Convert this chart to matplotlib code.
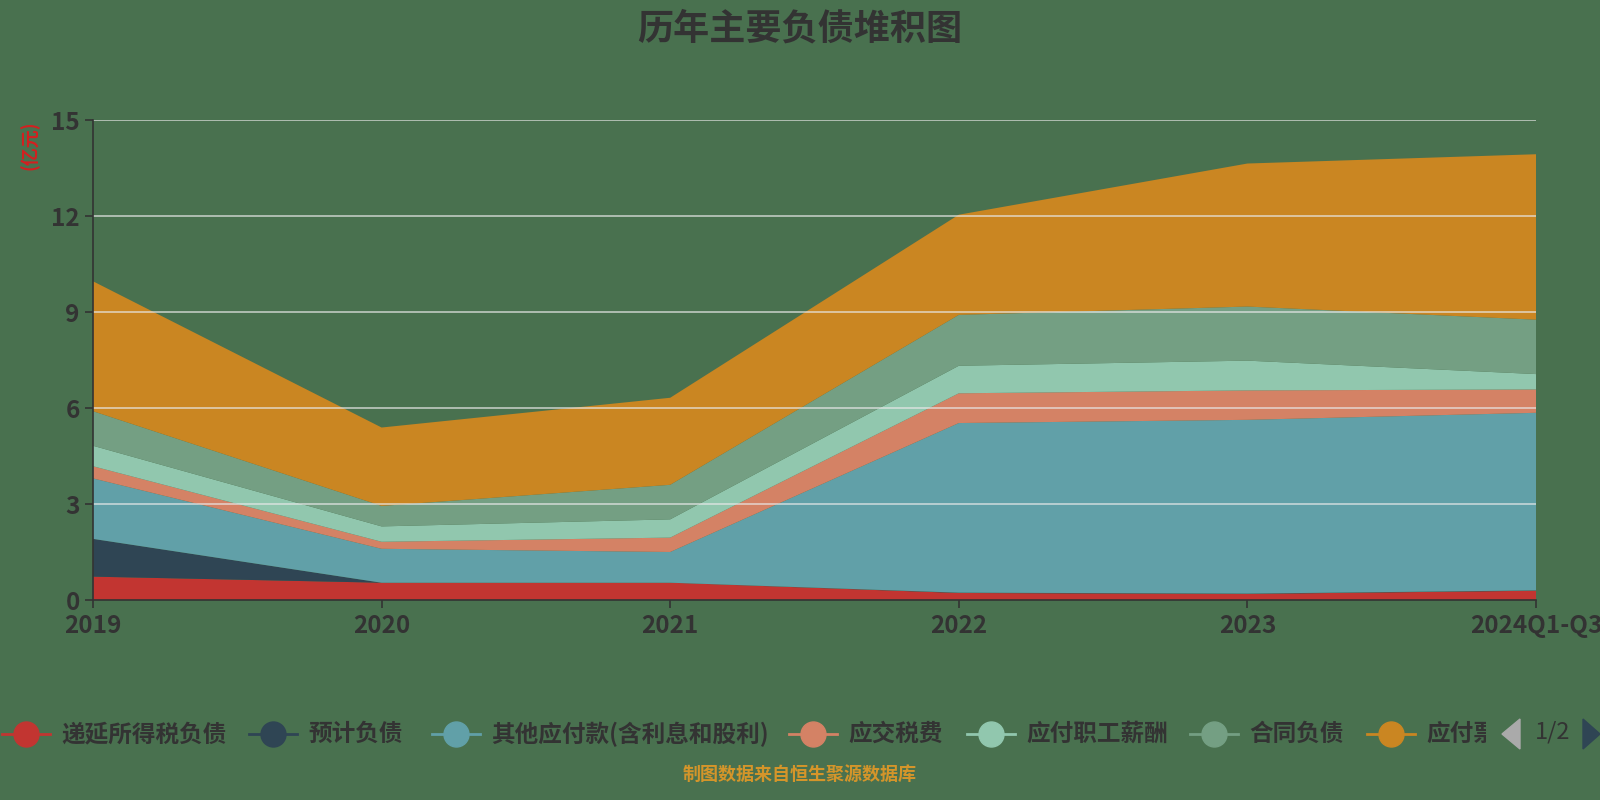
import matplotlib
matplotlib.use("Agg")
import matplotlib.pyplot as plt
import numpy as np
from matplotlib.lines import Line2D
from matplotlib.patches import Rectangle, Polygon

plt.rcParams['font.family'] = ['Noto Sans CJK SC', 'DejaVu Sans']

categories = ["2019", "2020", "2021", "2022", "2023", "2024Q1-Q3"]
series_names = ["递延所得税负债", "预计负债", "其他应付款(含利息和股利)", "应交税费",
                "应付职工薪酬", "合同负债", "应付票"]
deferred_tax = [0.73, 0.54, 0.54, 0.22, 0.19, 0.29]
provisions = [1.18, 0.00, 0.00, 0.01, 0.01, 0.01]
other_payables = [1.89, 1.06, 0.96, 5.30, 5.43, 5.55]
taxes_payable = [0.38, 0.22, 0.45, 0.93, 0.92, 0.73]
staff_pay = [0.64, 0.48, 0.57, 0.86, 0.93, 0.48]
contract_liab = [1.08, 0.64, 1.08, 1.59, 1.69, 1.70]
notes_accounts = [4.06, 2.45, 2.72, 3.13, 4.47, 5.17]
y_ticks = [0, 3, 6, 9, 12, 15]

series = [deferred_tax, provisions, other_payables, taxes_payable, staff_pay,
          contract_liab, notes_accounts]
colors = ["#c23531", "#2f4554", "#61a0a8", "#d48265", "#91c7ae", "#749f83", "#ca8622"]

bg = "#49714f"
fig = plt.figure(figsize=(16, 8), dpi=100, facecolor=bg)
ax = fig.add_axes([93/1600, 1 - 600/800, (1536-93)/1600, 480/800])
ax.set_facecolor(bg)

x = np.arange(len(categories))
ax.stackplot(x, *series, colors=colors, linewidth=0, zorder=2)

ax.set_xlim(0, len(categories) - 1)
ax.set_ylim(0, 15)
ax.set_yticks(y_ticks)
ax.set_xticks(x)
ax.set_xticklabels(categories)
for s in ["top", "right"]:
    ax.spines[s].set_visible(False)
for s in ["left", "bottom"]:
    ax.spines[s].set_color("#333333")
    ax.spines[s].set_linewidth(1.2)
    ax.spines[s].set_zorder(4)
ax.tick_params(axis="both", colors="#333333", labelsize=17.5, length=6, width=1.2)
ax.tick_params(axis="x", pad=4)
for lab in ax.get_xticklabels() + ax.get_yticklabels():
    lab.set_color("#333333")
    lab.set_fontweight("bold")
for t in y_ticks[1:]:
    ax.axhline(t, color="#e8e8e8", linewidth=1.2, alpha=0.75, zorder=3)

fig.text(0.5, 1 - 29/800, "历年主要负债堆积图", ha="center", va="center",
         fontsize=26, fontweight="bold", color="#333333")
fig.text(30/1600, 1 - 145/800, "(亿元)", rotation=90, ha="center", va="center",
         fontsize=13, fontweight="bold", color="#d42020")

# legend (manual, page 1/2)
leg_y = 1 - 734/800
marker_x = [26, 273, 456, 813, 991, 1214, 1391]
for i, (name, c) in enumerate(zip(series_names, colors)):
    mx = marker_x[i] / 1600
    fig.add_artist(Line2D([mx - 24/1600, mx + 24/1600], [leg_y, leg_y], color=c,
                          linewidth=2, transform=fig.transFigure))
    fig.add_artist(Line2D([mx], [leg_y], marker="o", markersize=18, color=c,
                          transform=fig.transFigure))
    t = fig.text(mx + 35/1600, leg_y, name, ha="left", va="center", fontsize=17,
                 fontweight="bold", color="#333333")
    if i == len(series_names) - 1:
        clip = Rectangle((0, 0), 1486/1600, 1, transform=fig.transFigure)
        t.set_clip_path(clip)

fig.add_artist(Polygon([[1502/1600, leg_y], [1520/1600, leg_y + 15/800], [1520/1600, leg_y - 15/800]],
                       closed=True, color="#aaaaaa", transform=fig.transFigure))
fig.text(1553/1600, leg_y + 2/800, "1/2", ha="center", va="center", fontsize=17, color="#333333")
fig.add_artist(Polygon([[1600/1600, leg_y], [1583/1600, leg_y + 15/800], [1583/1600, leg_y - 15/800]],
                       closed=True, color="#2f4554", transform=fig.transFigure))

fig.text(0.5, 1 - 774/800, "制图数据来自恒生聚源数据库", ha="center", va="center",
         fontsize=13, fontweight="bold", color="#d4952a")

fig.savefig("out.png", dpi=100, facecolor=bg)
